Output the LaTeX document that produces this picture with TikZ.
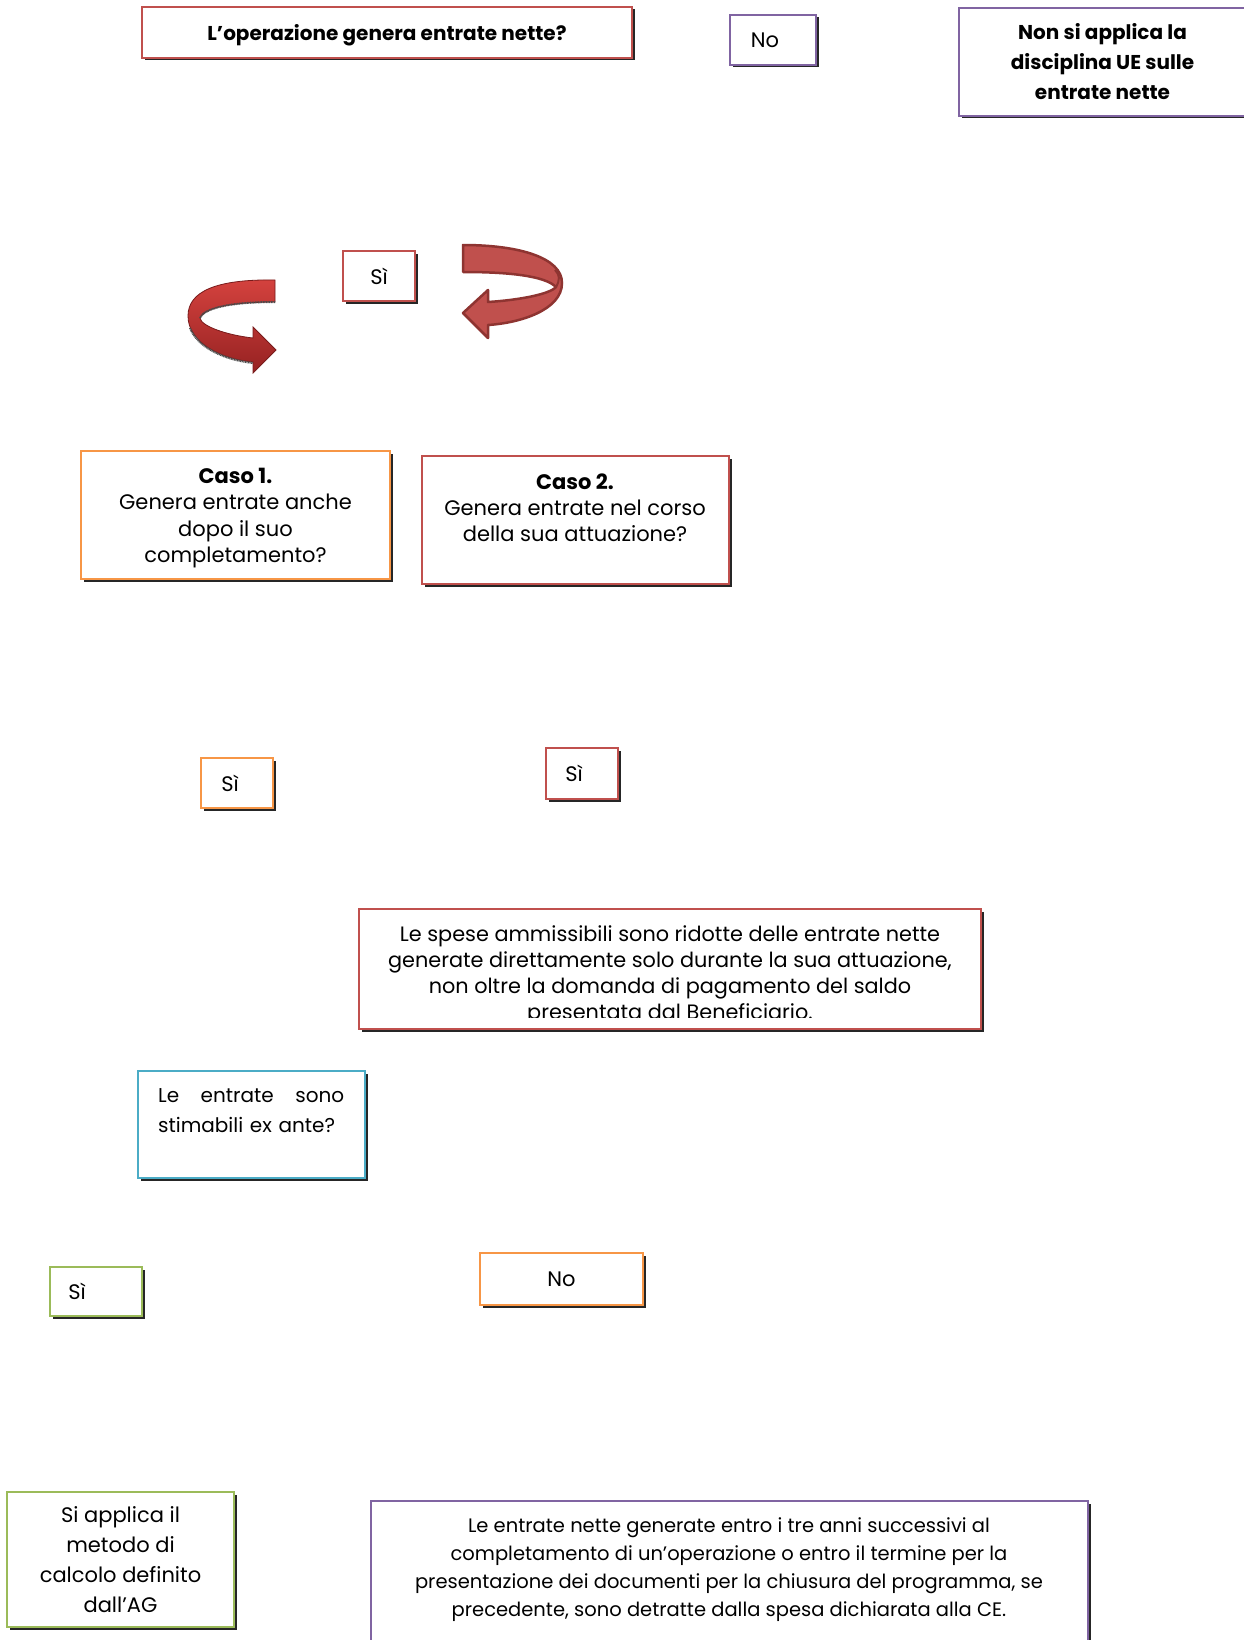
\documentclass[tikz,border=0pt]{standalone}
\usepackage{fontspec}
\setmainfont{Poppins}
\usetikzlibrary{shadows,calc}
\definecolor{cred}{HTML}{C0504D}
\definecolor{cpurple}{HTML}{8064A2}
\definecolor{corange}{HTML}{F79646}
\definecolor{cblue}{HTML}{4BACC6}
\definecolor{cgreen}{HTML}{9BBB59}
\definecolor{arrowdark}{HTML}{8E3431}
\definecolor{arrowtop}{RGB}{212,66,62}
\definecolor{arrowbot}{RGB}{150,34,34}
\tikzset{
  box/.style={draw=#1, line width=1.6pt, fill=white, inner sep=0pt,
    drop shadow={shadow xshift=2.5pt, shadow yshift=-2.5pt, fill=black!85, opacity=1},
    align=center, font=\fontsize{21}{26.2}\selectfont},
  txt/.style={inner sep=0pt, align=center, font=\fontsize{21}{26.2}\selectfont},
}
\begin{document}
\begin{tikzpicture}[x=1pt,y=-1pt]
\useasboundingbox (0,0) rectangle (1243,1640);
\fill[white] (0,0) rectangle (1243,1640);

% top row
\node[box=cred, minimum width=490pt, minimum height=51pt] (q1) at (387,32.5) {};
\node[txt, font=\bfseries\fontsize{20}{24}\selectfont] (q1t) at (387,35) {L’operazione genera entrate nette?};
\node[box=cpurple, minimum width=86pt, minimum height=50pt] (no1) at (773,40) {No\hspace{16pt}};
\node[box=cpurple, minimum width=287pt, minimum height=108pt, font=\bfseries\fontsize{20}{30}\selectfont] (na) at (1102.5,62) {Non si applica la\\disciplina UE sulle\\entrate nette};

% Si and curved arrows
\node[box=cred, minimum width=72pt, minimum height=50pt] (si1) at (379,276) {Sì};

\shade[top color=arrowtop, bottom color=arrowbot, draw=arrowbot!80!black, line width=0.8pt]
  (275,280) .. controls (215,279) and (188,292) .. (188,316)
  .. controls (188,342) and (220,359) .. (253,362) -- (253,373) -- (276,350) -- (253,327) -- (253,338)
  .. controls (226,335) and (201,326) .. (200,318)
  .. controls (205,306) and (240,302) .. (275,302) -- cycle;
\draw[black!70, line width=2pt, dash pattern=on 1pt off 0.6pt] (275,302) .. controls (240,302) and (205,306) .. (200,318);
\draw[black!70, line width=2pt, dash pattern=on 1pt off 0.6pt] (190,328) .. controls (198,348) and (225,360) .. (253,363);

\fill[cred, draw=arrowdark, line width=2.5pt, line join=round]
  (463,245) .. controls (520,245) and (562,258) .. (562,283)
  .. controls (562,310) and (520,323) .. (488,325) -- (488,338) -- (463,313) -- (488,290) -- (488,302)
  .. controls (520,300) and (550,294) .. (556,287)
  .. controls (545,276) and (510,272) .. (463,272) -- cycle;
\draw[arrowdark, line width=2pt] (556,287) .. controls (560,280) and (560,275) .. (555,270);

% cases
\node[box=corange, minimum width=309pt, minimum height=128pt] (c1) at (235.5,515) {};
\node[txt] (c1t) at (235.5,518) {\textbf{Caso 1.}\\Genera entrate anche\\dopo il suo\\completamento?};
\node[box=cred, minimum width=307pt, minimum height=128pt] (c2) at (575.5,520) {};
\node[txt] (c2t) at (575,508) {\textbf{Caso 2.}\\Genera entrate nel corso\\della sua attuazione?};

\node[box=corange, minimum width=72pt, minimum height=50pt] (si2) at (237,783) {Sì\hspace{14pt}};
\node[box=cred, minimum width=72pt, minimum height=51pt] (si3) at (582,773.5) {Sì\hspace{16pt}};

% long box
\node[box=cred, minimum width=622pt, minimum height=120pt] (ls) at (670,969) {};
\begin{scope}
  \clip (362,911) rectangle (978,1017);
  \node[txt, font=\fontsize{20.8}{26.2}\selectfont, anchor=north] (lst) at (670,925) {Le spese ammissibili sono ridotte delle entrate nette\\generate direttamente solo durante la sua attuazione,\\non oltre la domanda di pagamento del saldo\\presentata dal Beneficiario.};
\end{scope}

% blue
\node[box=cblue, minimum width=227pt, minimum height=107pt] (bl) at (251.5,1124.5) {};
\node[inner sep=0pt, anchor=north west, text width=186pt, align=left, font=\fontsize{20}{30}\selectfont] (blt) at (158,1088) {Le\hfill entrate\hfill sono\\stimabili ex ante?};

\node[box=cgreen, minimum width=92pt, minimum height=49pt] (si4) at (96,1291.5) {Sì\hspace{38pt}};
\node[box=corange, minimum width=163pt, minimum height=52pt] (no2) at (561.5,1279) {No};

% bottom
\node[box=cgreen, minimum width=227pt, minimum height=135pt, font=\fontsize{21}{30}\selectfont] (gm) at (120.5,1559.5) {Si applica il\\metodo di\\calcolo definito\\dall’AG};
\node[box=cpurple, minimum width=717pt, minimum height=180pt] (pb) at (729.5,1591) {};
\node[txt, font=\fontsize{19.5}{28.3}\selectfont, anchor=north] (pbt) at (729,1517) {Le entrate nette generate entro i tre anni successivi al\\completamento di un’operazione o entro il termine per la\\presentazione dei documenti per la chiusura del programma, se\\precedente, sono detratte dalla spesa dichiarata alla CE.};
\end{tikzpicture}
\end{document}
